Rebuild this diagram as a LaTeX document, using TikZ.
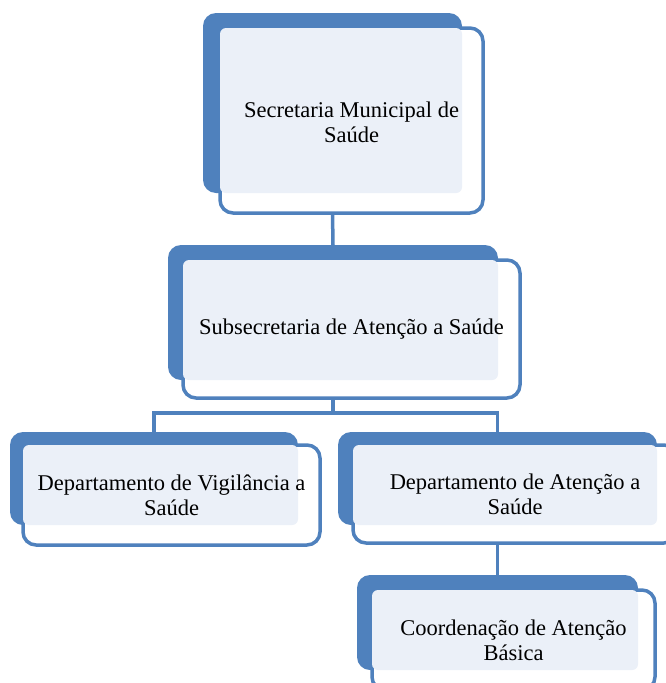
\documentclass[tikz,border=0pt]{standalone}
\usepackage{fontspec}
\setmainfont{Liberation Serif}
\definecolor{ablue}{RGB}{79,129,189}
\definecolor{alight}{RGB}{235,240,248}
\tikzset{
  back/.style={rectangle, rounded corners=13pt, fill=ablue, draw=none, anchor=north west, inner sep=0pt, outer sep=0pt},
  front/.style={rectangle, rounded corners=13pt, fill=white, draw=ablue, line width=3.5pt, anchor=north west, inner sep=0pt, outer sep=0pt},
  tint/.style={rectangle, rounded corners=6pt, fill=alight, draw=none, anchor=north west, inner sep=0pt, outer sep=0pt},
  txt/.style={align=center, font=\fontsize{22.5}{25}\selectfont, inner sep=0pt},
  conn/.style={draw=ablue, line width=3.5pt}
}
\begin{document}
\begin{tikzpicture}[x=1pt,y=-1pt]
\useasboundingbox (0,0) rectangle (666,683);
\clip (0,0) rectangle (666,683);
% box 1
\node[back, minimum width=259pt, minimum height=180pt] (b1) at (203,13) {};
\node[front, minimum width=263pt, minimum height=185pt] (w1) at (220,28) {};
\node[tint, minimum width=242pt, minimum height=165pt] (l1) at (220,28) {};
\node[txt] (t1) at ([yshift=-2pt]w1.center) {Secretaria Municipal de\\Saúde};
% box 2
\node[back, minimum width=330pt, minimum height=135pt] (b2) at (168,245) {};
\node[front, minimum width=337pt, minimum height=138pt] (w2) at (183,260) {};
\node[tint, minimum width=315pt, minimum height=120pt] (l2) at (183,260) {};
\node[txt] (t2) at (w2.center) {Subsecretaria de Atenção a Saúde};
% box 3
\node[back, minimum width=288pt, minimum height=93pt] (b3) at (10,432) {};
\node[front, minimum width=297pt, minimum height=100pt] (w3) at (23,445) {};
\node[tint, minimum width=275pt, minimum height=80pt] (l3) at (23,445) {};
\node[txt] (t3) at (w3.center) {Departamento de Vigilância a\\Saúde};
% box 4
\node[back, minimum width=319pt, minimum height=93pt] (b4) at (338,432) {};
\node[front, minimum width=324pt, minimum height=98pt] (w4) at (353,445) {};
\node[tint, minimum width=304pt, minimum height=80pt] (l4) at (353,445) {};
\node[txt] (t4) at (w4.center) {Departamento de Atenção a\\Saúde};
% box 5
\node[back, minimum width=281pt, minimum height=95pt] (b5) at (357,575) {};
\node[front, minimum width=283pt, minimum height=100pt] (w5) at (372,590) {};
\node[tint, minimum width=266pt, minimum height=80pt] (l5) at (372,590) {};
\node[txt] (t5) at (w5.center) {Coordenação de Atenção\\Básica};
% connectors
\coordinate (bar) at (333,413);
\draw[conn] (b1.south |- w1.south) -- (b2.north);
\draw[conn] (b2.south |- w2.south) -- (bar);
\draw[conn] (b3.north) |- (bar) -| (b4.north);
\draw[conn] (b4.south |- w4.south) -- (b5.north);
\end{tikzpicture}
\end{document}
